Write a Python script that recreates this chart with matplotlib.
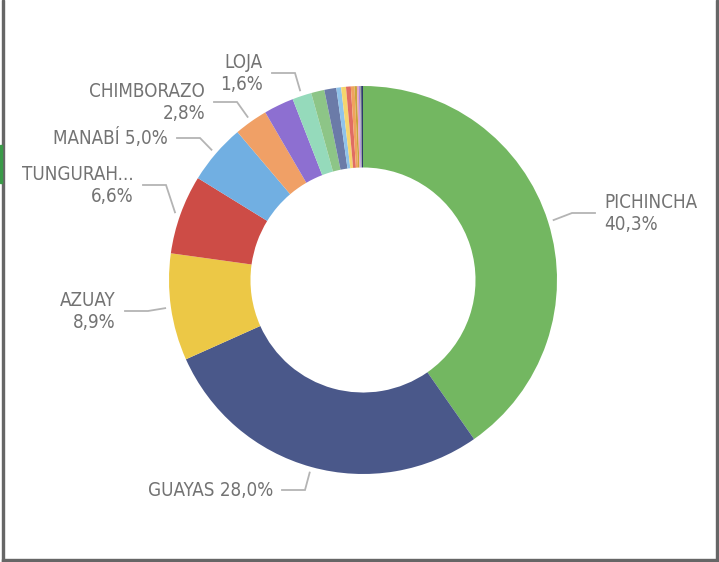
import numpy as np
import matplotlib.pyplot as plt
from matplotlib import font_manager
from matplotlib.patches import Rectangle

# Datos: participación por provincia (%)
provincias = ['PICHINCHA', 'GUAYAS', 'AZUAY', 'TUNGURAHUA', 'MANABÍ', 'CHIMBORAZO',
              'IMBABURA', 'LOJA', 'EL ORO', 'COTOPAXI', 'SANTO DOMINGO', 'ESMERALDAS',
              'LOS RÍOS', 'SANTA ELENA', 'CAÑAR', 'NAPO', 'CARCHI', 'PASTAZA', 'ORELLANA']
porcentajes = [40.3, 28.0, 8.9, 6.6, 5.0, 2.8,
               2.5, 1.6, 1.1, 1.0, 0.4, 0.4,
               0.4, 0.3, 0.2, 0.15, 0.1, 0.1, 0.15]
colores = ['#73B761', '#4A588A', '#ECC846', '#CD4C46', '#71AFE2', '#F0A066',
           '#8D6FD1', '#95DABB', '#8DC587', '#6B7BA8', '#8FC3EA', '#F5D56E',
           '#E06C63', '#F0A35E', '#C9A53A', '#E8A5C0', '#A58BE0', '#9AA0A8', '#2E3A6B']

# Texto mostrado para las etiquetas visibles
nombres_etiqueta = {'PICHINCHA': 'PICHINCHA', 'GUAYAS': 'GUAYAS', 'AZUAY': 'AZUAY',
                    'TUNGURAHUA': 'TUNGURAH...', 'MANABÍ': 'MANABÍ',
                    'CHIMBORAZO': 'CHIMBORAZO', 'LOJA': 'LOJA'}

# Layout: codo de la línea guía (px) y si la etiqueta va en dos renglones
codos = {
    'PICHINCHA': (572, 213, True),
    'GUAYAS': (305, 490, False),
    'AZUAY': (148, 311, True),
    'TUNGURAHUA': (166, 185, True),
    'MANABÍ': (200, 138, False),
    'CHIMBORAZO': (237, 102, True),
    'LOJA': (295, 73, True),
}

W, H = 719, 562
CX, CY, R = 363, 280, 194  # centro y radio de la dona en px


def px(x, y):
    # Convierte px de la imagen a unidades de datos
    return (x - CX) / R, (CY - y) / R


# Buscar una fuente angosta parecida a DIN
nombres_ttf = {f.name for f in font_manager.fontManager.ttflist}
condensada = any('Condensed' in f.fname and f.name == 'DejaVu Sans'
                 for f in font_manager.fontManager.ttflist)
if 'Liberation Sans Narrow' in nombres_ttf:
    estilo_texto = dict(family=['Liberation Sans Narrow', 'DejaVu Sans'], fontsize=13.5)
elif condensada:
    estilo_texto = dict(family=['DejaVu Sans'], fontstretch='condensed', fontsize=13.5)
else:
    estilo_texto = dict(family=['Roboto', 'DejaVu Sans'], fontsize=12.5)

fig = plt.figure(figsize=(W / 100, H / 100), dpi=100)
ax = fig.add_axes([0, 0, 1, 1])

wedges, _ = ax.pie(porcentajes, colors=colores, startangle=90, counterclock=False,
                   radius=1, wedgeprops=dict(width=0.42, linewidth=0))

ax.set_xlim(-CX / R, (W - CX) / R)
ax.set_ylim((CY - H) / R, CY / R)
ax.set_aspect('auto')
ax.axis('off')

total = sum(porcentajes)
gris_linea = '#B4B4B4'
gris_texto = '#737373'

for w, prov, val in zip(wedges, provincias, porcentajes):
    if prov not in codos:
        continue
    ex, ey, dos = codos[prov]
    lado = 1 if ex > CX else -1
    th = np.deg2rad((w.theta1 + w.theta2) / 2)
    x0, y0 = 1.03 * np.cos(th), 1.03 * np.sin(th)
    x1, y1 = px(ex, ey)
    x2 = x1 + lado * 23 / R
    ax.plot([x0, x1, x2], [y0, y1, y1], color=gris_linea, lw=1.3,
            solid_joinstyle='miter', zorder=1)
    pct = f'{val / total * 100:.1f}%'.replace('.', ',')
    sep = '\n' if dos else ' '
    texto = nombres_etiqueta[prov] + sep + pct
    ax.text(x2 + lado * 9 / R, y1, texto, ha='left' if lado > 0 else 'right',
            va='center', multialignment='left' if lado > 0 else 'right',
            color=gris_texto, linespacing=1.2, **estilo_texto)

# Marco del visual
borde = '#666666'
fig.patches.append(Rectangle((1.5 / W, 0), 2 / W, 1, transform=fig.transFigure,
                             color=borde, zorder=5))
fig.patches.append(Rectangle((716 / W, 0), 2 / W, 1, transform=fig.transFigure,
                             color=borde, zorder=5))
fig.patches.append(Rectangle((1.5 / W, 0), 716.5 / W, 3 / H, transform=fig.transFigure,
                             color=borde, zorder=5))
fig.patches.append(Rectangle((0, 1 - 183 / H), 1.5 / W, 38 / H, transform=fig.transFigure,
                             color='#3A9A48', zorder=5))

fig.savefig('out.png', dpi=100)
